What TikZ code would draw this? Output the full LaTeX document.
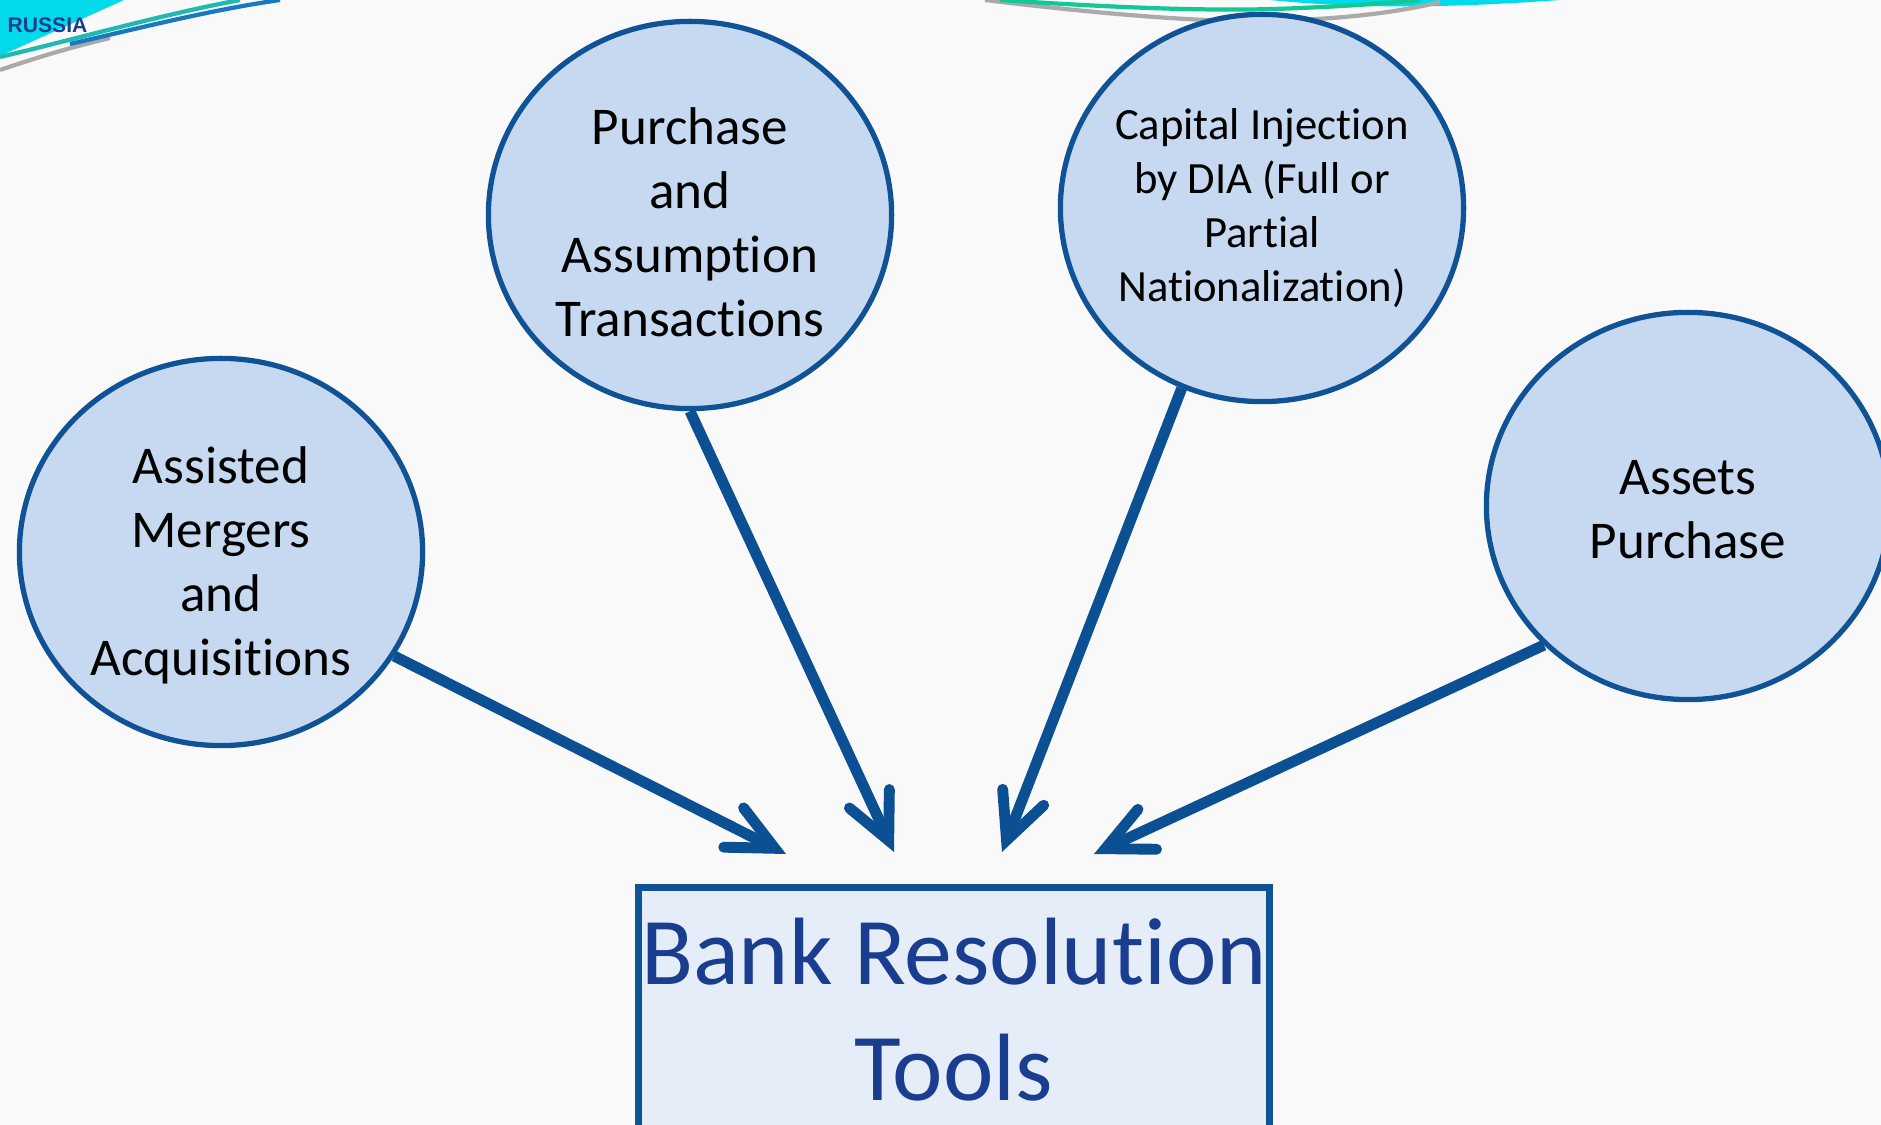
\documentclass[tikz,border=0pt]{standalone}
\usepackage{fontspec}
\setmainfont{Carlito}[Ligatures={NoCommon}]
\newfontfamily\logofont{Liberation Sans}
\usetikzlibrary{arrows.meta,shapes.geometric}
\definecolor{rimblue}{RGB}{16,82,150}
\definecolor{discfill}{RGB}{198,217,241}
\definecolor{arrowblue}{RGB}{12,80,148}
\definecolor{titleblue}{RGB}{26,61,143}
\definecolor{boxfill}{RGB}{228,237,248}
\definecolor{pagegray}{RGB}{249,249,249}
\definecolor{swcyan}{RGB}{0,218,234}
\definecolor{swteal}{RGB}{30,185,175}
\definecolor{swgreen}{RGB}{20,200,150}
\definecolor{swblue}{RGB}{24,120,192}
\definecolor{swgray}{RGB}{170,170,170}

\begin{document}
\begin{tikzpicture}[x=0.01cm,y=-0.01cm,
    disc/.style={draw=rimblue,line width=1.5pt,fill=discfill,shape=ellipse,
      minimum width=4.03cm,minimum height=3.87cm,inner sep=0pt,align=center,
      font=\fontsize{15.1}{18.2}\selectfont},
    push/.style={draw=arrowblue,line width=3.1pt,
      -{Straight Barb[length=4.6mm,width=4.4mm,line cap=round]}},
    swoosh/.style={line width=1.2pt}]
  \clip (0,0) rectangle (1881,1125);
  \fill[pagegray] (0,0) rectangle (1881,1125);
  % corner swooshes
  \fill[swcyan] (0,0) -- (124,0) -- (0,56) -- cycle;
  \draw[swoosh,swgray] (0,70) .. controls (30,60) and (60,50) .. (110,38);
  \draw[swoosh,swteal] (0,57) .. controls (80,38) and (160,15) .. (240,0);
  \draw[swoosh,swblue] (70,44) .. controls (140,28) and (210,10) .. (280,0);
  \fill[swcyan] (1270,0) .. controls (1360,9) and (1450,8) .. (1560,0) -- cycle;
  \draw[swoosh,swgray] (985,0) .. controls (1100,14) and (1200,22) .. (1262,21)
    .. controls (1340,20) and (1400,12) .. (1440,2);
  \draw[swoosh,swgreen] (1000,0) .. controls (1120,8) and (1220,12) .. (1300,8)
    .. controls (1350,6) and (1390,3) .. (1420,0);
  \node[font=\logofont\bfseries\fontsize{6}{7}\selectfont,text=titleblue,
    anchor=base west,inner sep=0pt] (logo) at (7,33) {RUSSIA};
  % the four tools (struts push the text down a little)
  \node[disc] (c1) at (221,552) {\rule{0pt}{1.2em}Assisted\\Mergers\\and\\Acquisitions};
  \node[disc] (c2) at (690,215) {\rule{0pt}{0.95em}Purchase\\and\\Assumption\\Transactions};
  \node[disc,inner xsep=-12pt,font=\fontsize{12.7}{15.3}\selectfont] (c3) at (1262,208)
    {Capital Injection\\by DIA (Full or\\Partial\\Nationalization)};
  \node[disc] (c4) at (1688,506) {\rule{0pt}{0.78em}Assets\\Purchase};
  \node[draw=rimblue,line width=2pt,fill=boxfill,minimum width=6.31cm,
    minimum height=2.45cm,inner xsep=0pt,anchor=north,align=center,text=titleblue,
    font=\fontsize{27.2}{33}\selectfont] (tools) at (954,884) {Bank Resolution\\Tools};
  \coordinate (t1) at (786,854);
  \coordinate (t2) at (894,852);
  \coordinate (t3) at (1002,852);
  \coordinate (t4) at (1094,854);
  \draw[push] (c1.-31) -- (t1);
  \draw[push] (c2.south) -- (t2);
  \draw[push] (c3.-114) -- (t3);
  \draw[push] (c4.-136) -- (t4);
\end{tikzpicture}
\end{document}
